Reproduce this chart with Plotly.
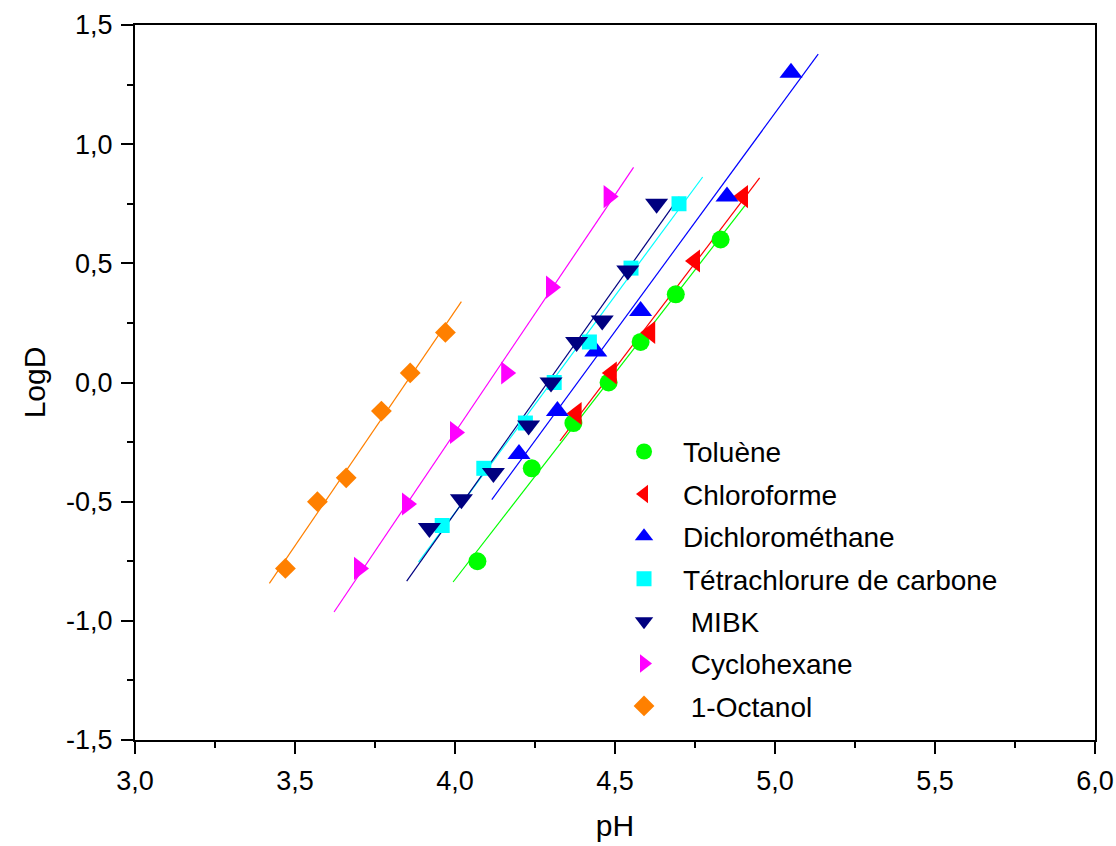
import numpy as np
import plotly.graph_objects as go

# ---- data ----
names = ["Toluène", "Chloroforme", "Dichlorométhane", "Tétrachlorure de carbone",
         " MIBK", " Cyclohexane", " 1-Octanol"]

toluene_ph = [4.07, 4.24, 4.37, 4.48, 4.58, 4.69, 4.83]
toluene_logd = [-0.75, -0.36, -0.17, 0.00, 0.17, 0.37, 0.60]

chloro_ph = [4.38, 4.49, 4.61, 4.75, 4.90]
chloro_logd = [-0.13, 0.04, 0.21, 0.51, 0.78]

dcm_ph = [4.20, 4.32, 4.44, 4.58, 4.85, 5.05]
dcm_logd = [-0.30, -0.12, 0.13, 0.30, 0.78, 1.30]

ccl4_ph = [3.96, 4.09, 4.22, 4.31, 4.42, 4.55, 4.70]
ccl4_logd = [-0.60, -0.36, -0.17, 0.00, 0.17, 0.48, 0.75]

mibk_ph = [3.92, 4.02, 4.12, 4.23, 4.30, 4.38, 4.46, 4.54, 4.63]
mibk_logd = [-0.61, -0.49, -0.38, -0.18, 0.00, 0.17, 0.26, 0.47, 0.75]

cyclo_ph = [3.70, 3.85, 4.00, 4.16, 4.30, 4.48]
cyclo_logd = [-0.78, -0.51, -0.21, 0.04, 0.40, 0.78]

octanol_ph = [3.47, 3.57, 3.66, 3.77, 3.86, 3.97]
octanol_logd = [-0.78, -0.50, -0.40, -0.12, 0.04, 0.21]

x_tickvals = [3.0, 3.5, 4.0, 4.5, 5.0, 5.5, 6.0]
x_ticktext = ["3,0", "3,5", "4,0", "4,5", "5,0", "5,5", "6,0"]
y_tickvals = [-1.5, -1.0, -0.5, 0.0, 0.5, 1.0, 1.5]
y_ticktext = ["-1,5", "-1,0", "-0,5", "0,0", "0,5", "1,0", "1,5"]

series = [
    (toluene_ph, toluene_logd, "#00FF00", "circle", 18),
    (chloro_ph, chloro_logd, "#FF0000", "triangle-left", 20),
    (dcm_ph, dcm_logd, "#0000FF", "triangle-up", 20),
    (ccl4_ph, ccl4_logd, "#00FFFF", "square", 15),
    (mibk_ph, mibk_logd, "#000080", "triangle-down", 20),
    (cyclo_ph, cyclo_logd, "#FF00FF", "triangle-right", 20),
    (octanol_ph, octanol_logd, "#FF8000", "diamond", 16),
]

FONT = "Liberation Sans, Arial, sans-serif"
fig = go.Figure()

# linear fit lines (computed from the data, extended 10 % of the range)
for (xs, ys, col, sym, sz), nm in zip(series, names):
    xa = np.array(xs)
    ya = np.array(ys)
    k, b = np.polyfit(xa, ya, 1)
    ext = 0.1 * (xa.max() - xa.min())
    xf = np.array([xa.min() - ext, xa.max() + ext])
    fig.add_trace(go.Scatter(x=xf, y=k * xf + b, mode="lines",
                             line=dict(color=col, width=1.2),
                             showlegend=False, hoverinfo="skip"))

for i, ((xs, ys, col, sym, sz), nm) in enumerate(zip(series, names)):
    fig.add_trace(go.Scatter(x=xs, y=ys, mode="markers", name=nm,
                             legendgroup=f"g{i}",
                             marker=dict(color=col, symbol=sym, size=sz,
                                         line=dict(width=0))))

axis_common = dict(
    showline=True, linecolor="black", linewidth=2, mirror=True,
    ticks="outside", ticklen=12, tickwidth=2, tickcolor="black",
    showgrid=False, zeroline=False,
    tickfont=dict(family=FONT, size=27, color="black"),
)

fig.update_layout(
    width=1116, height=846,
    margin=dict(l=135, r=21, t=25, b=106, autoexpand=False),
    paper_bgcolor="white", plot_bgcolor="white",
    font=dict(family=FONT, color="black"),
    xaxis=dict(range=[3.0, 6.0], tickmode="array", tickvals=x_tickvals,
               ticktext=x_ticktext, ticklabelstandoff=4,
               minor=dict(ticks="outside", ticklen=6, tickwidth=2,
                          tickcolor="black", dtick=0.25, tick0=3.0),
               title=dict(text="pH", font=dict(family=FONT, size=30), standoff=20),
               **axis_common),
    yaxis=dict(range=[-1.5, 1.5], tickmode="array", tickvals=y_tickvals,
               ticktext=y_ticktext, ticklabelstandoff=3,
               minor=dict(ticks="outside", ticklen=6, tickwidth=2,
                          tickcolor="black", dtick=0.25, tick0=-1.5),
               title=dict(text="LogD", font=dict(family=FONT, size=30), standoff=12),
               **axis_common),
    legend=dict(x=0.4896, y=0.438, xanchor="left", yanchor="top",
                bgcolor="rgba(0,0,0,0)", borderwidth=0,
                font=dict(family=FONT, size=28, color="black"),
                traceorder="grouped", tracegroupgap=3, itemsizing="trace",
                itemwidth=68),
)

fig.write_html("out.html", config={"displayModeBar": False},
               post_script="document.body.style.margin='0';document.body.style.overflow='hidden';")
